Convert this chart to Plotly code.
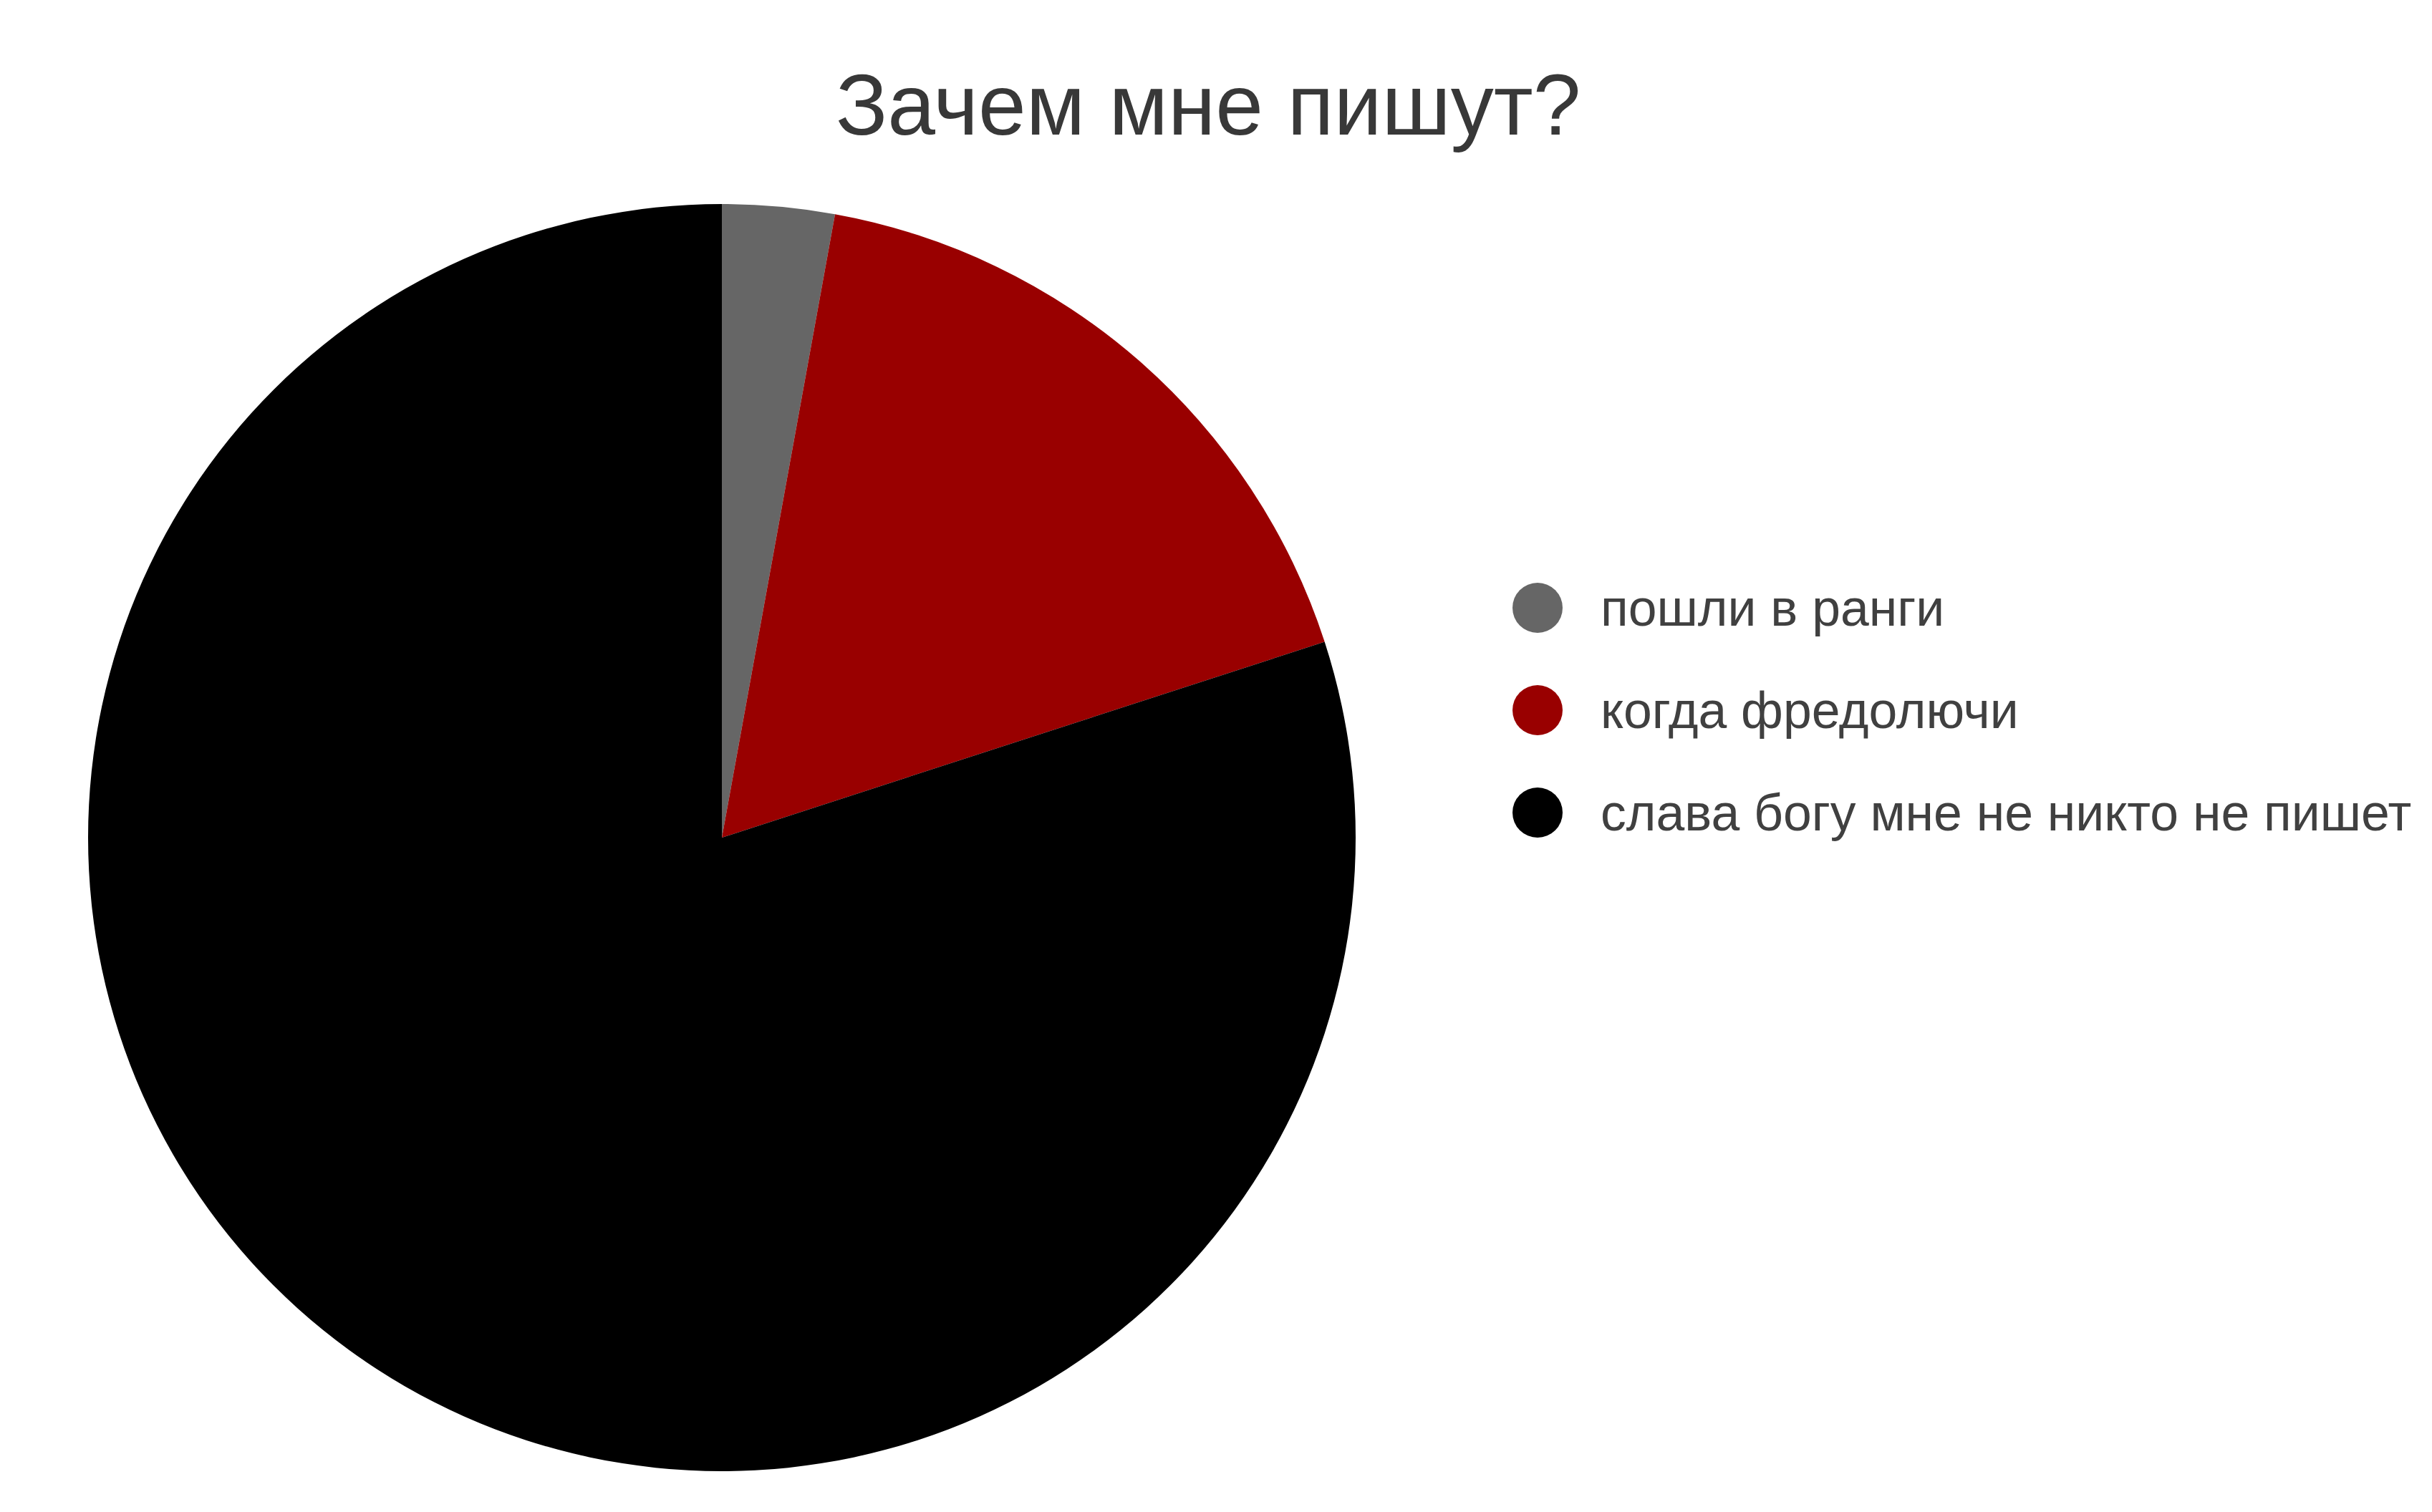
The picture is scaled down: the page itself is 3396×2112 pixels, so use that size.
import plotly.graph_objects as go

# ---- data ----
title_text = "Зачем мне пишут?"
labels = ["пошли в ранги", "когда фредолючи", "слава богу мне не никто не пишет"]
values = [1, 6, 28]
colors = ["#666666", "#990000", "#000000"]

W, H = 3396, 2112
FONT = "'Liberation Sans', Arial, sans-serif"

fig = go.Figure()

fig.add_trace(go.Pie(
    labels=labels,
    values=values,
    sort=False,
    direction="clockwise",
    rotation=0,
    marker=dict(colors=colors, line=dict(width=0)),
    textinfo="none",
    hoverinfo="label+percent",
    showlegend=False,
    domain=dict(x=[0.03622, 0.55742], y=[0.02699, 0.86506]),
))

# custom legend (large circle markers) drawn on hidden axes
fig.add_trace(go.Scatter(
    x=[0] * len(labels),
    y=labels,
    mode="markers",
    marker=dict(size=70, color=colors, line=dict(width=0)),
    showlegend=False,
    hoverinfo="skip",
    cliponaxis=False,
))

for lab in labels:
    fig.add_annotation(
        x=0, y=lab, xref="x", yref="y",
        text=lab, showarrow=False,
        xanchor="left", yanchor="middle", xshift=86,
        font=dict(family=FONT, size=71.5, color="#404040"),
    )

fig.update_layout(
    width=W, height=H,
    margin=dict(l=0, r=0, t=0, b=0),
    paper_bgcolor="white",
    plot_bgcolor="white",
    title=dict(
        text=title_text,
        x=0.4968, xanchor="center",
        y=1 - 146 / H, yanchor="middle", yref="container",
        font=dict(family=FONT, size=120, color="#383838"),
    ),
    xaxis=dict(domain=[(2147 - 100) / W, (2147 + 100) / W], range=[-1, 1],
               visible=False, fixedrange=True),
    yaxis=dict(domain=[(H - 1206.5) / H, (H - 777.5) / H], range=[2.5, -0.5],
               type="category", categoryorder="array", categoryarray=labels,
               visible=False, fixedrange=True),
    showlegend=False,
)

fig.write_html("out.html", config={"displayModeBar": False},
               post_script="document.body.style.margin='0';")
